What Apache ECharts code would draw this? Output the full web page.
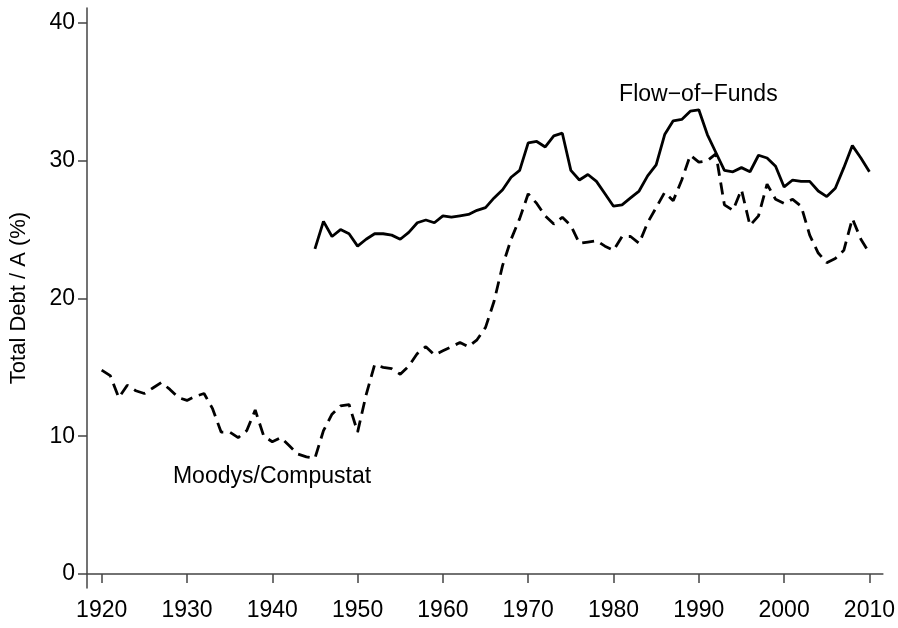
<!DOCTYPE html>
<html>
<head>
<meta charset="utf-8">
<script src="https://cdn.jsdelivr.net/npm/echarts@6/dist/echarts.min.js"></script>
<style>
  html, body { margin: 0; padding: 0; background: #fff; }
  #chart { width: 898px; height: 628px; }
</style>
</head>
<body>
<div id="chart"></div>
<script>
// Moodys/Compustat, 1920-2010 (dashed)
var moodysStart = 1920
var moodys = [
  14.8, 14.4, 12.8, 13.7, 13.3, 13.1, 13.5, 13.9, 13.4, 12.8,
  12.6, 12.9, 13.1, 12.0, 10.3, 10.3, 9.9, 10.4, 11.9, 10.0,
  9.6, 9.9, 9.3, 8.7, 8.5, 8.4, 10.4, 11.6, 12.2, 12.3,
  10.3, 13.0, 15.2, 15.0, 14.9, 14.5, 15.1, 16.0, 16.5, 15.9,
  16.2, 16.5, 16.8, 16.5, 17.0, 17.9, 19.8, 22.4, 24.3, 25.8,
  27.6, 26.9, 26.0, 25.4, 25.9, 25.3, 24.0, 24.1, 24.2, 23.8,
  23.5, 24.5, 24.5, 24.0, 25.5, 26.6, 27.7, 27.1, 28.6, 30.4,
  29.9, 30.0, 30.5, 26.8, 26.4, 27.9, 25.3, 26.0, 28.3, 27.2,
  26.9, 27.2, 26.7, 24.6, 23.3, 22.6, 22.9, 23.5, 25.8, 24.3,
  23.3
]
// Flow-of-Funds, 1945-2010 (solid)
var fofStart = 1945
var fof = [
  23.6, 25.6, 24.5, 25.0, 24.7,
  23.8, 24.3, 24.7, 24.7, 24.6, 24.3, 24.8, 25.5, 25.7, 25.5,
  26.0, 25.9, 26.0, 26.1, 26.4, 26.6, 27.3, 27.9, 28.8, 29.3,
  31.3, 31.4, 31.0, 31.8, 32.0, 29.3, 28.6, 29.0, 28.5, 27.6,
  26.7, 26.8, 27.3, 27.8, 28.9, 29.7, 31.9, 32.9, 33.0, 33.6,
  33.7, 31.9, 30.6, 29.3, 29.2, 29.5, 29.2, 30.4, 30.2, 29.6,
  28.1, 28.6, 28.5, 28.5, 27.8, 27.4, 28.0, 29.5, 31.1, 30.2,
  29.2
]
var xTicks = [1920, 1930, 1940, 1950, 1960, 1970, 1980, 1990, 2000, 2010]
var yTicks = [0, 10, 20, 30, 40]

function pairs(start, vals) {
  return vals.map(function (v, i) { return [start + i, v] })
}

var chart = echarts.init(document.getElementById('chart'), null, { renderer: 'canvas' })
var font = 'Liberation Sans, Arial, Helvetica, sans-serif'

chart.setOption({
  backgroundColor: '#fff',
  animation: false,
  textStyle: { fontFamily: font },
  grid: { left: 87, right: 13, top: 8, bottom: 40 },
  xAxis: {
    type: 'value',
    min: 1918.28,
    max: 2011.58,
    axisLine: { show: true, lineStyle: { color: '#444', width: 1.5 } },
    axisTick: { show: true, customValues: xTicks, length: 9, lineStyle: { color: '#444', width: 1.5 } },
    axisLabel: {
      customValues: xTicks, margin: 11, fontSize: 23, color: '#000', fontFamily: font,
      formatter: function (v) { return String(v) }
    },
    splitLine: { show: false }
  },
  yAxis: {
    type: 'value',
    min: -1.02,
    max: 41.09,
    name: 'Total Debt / A (%)',
    nameLocation: 'middle',
    nameGap: 57,
    nameTextStyle: { fontSize: 22, color: '#000', fontFamily: font },
    axisLine: { show: true, lineStyle: { color: '#444', width: 1.5 } },
    axisTick: { show: true, customValues: yTicks, length: 9, lineStyle: { color: '#444', width: 1.5 } },
    axisLabel: { customValues: yTicks, margin: 12, fontSize: 23, color: '#000', fontFamily: font },
    splitLine: { show: false }
  },
  series: [{
    name: 'Moodys/Compustat',
    type: 'line',
    data: pairs(moodysStart, moodys),
    showSymbol: false,
    lineStyle: { color: '#000', width: 2.8, type: [12, 7] },
    markPoint: {
      symbol: 'circle',
      symbolSize: 0,
      label: { show: true, position: 'inside', formatter: 'Moodys/Compustat', color: '#000', fontSize: 23, fontFamily: font },
      data: [{ coord: [1939.97, 7.1] }]
    }
  }, {
    name: 'Flow-of-Funds',
    type: 'line',
    data: pairs(fofStart, fof),
    showSymbol: false,
    lineStyle: { color: '#000', width: 2.8 },
    markPoint: {
      symbol: 'circle',
      symbolSize: 0,
      label: { show: true, position: 'inside', formatter: 'Flow\u2212of\u2212Funds', color: '#000', fontSize: 23, fontFamily: font },
      data: [{ coord: [1989.95, 34.77] }]
    }
  }]
})
</script>
</body>
</html>
